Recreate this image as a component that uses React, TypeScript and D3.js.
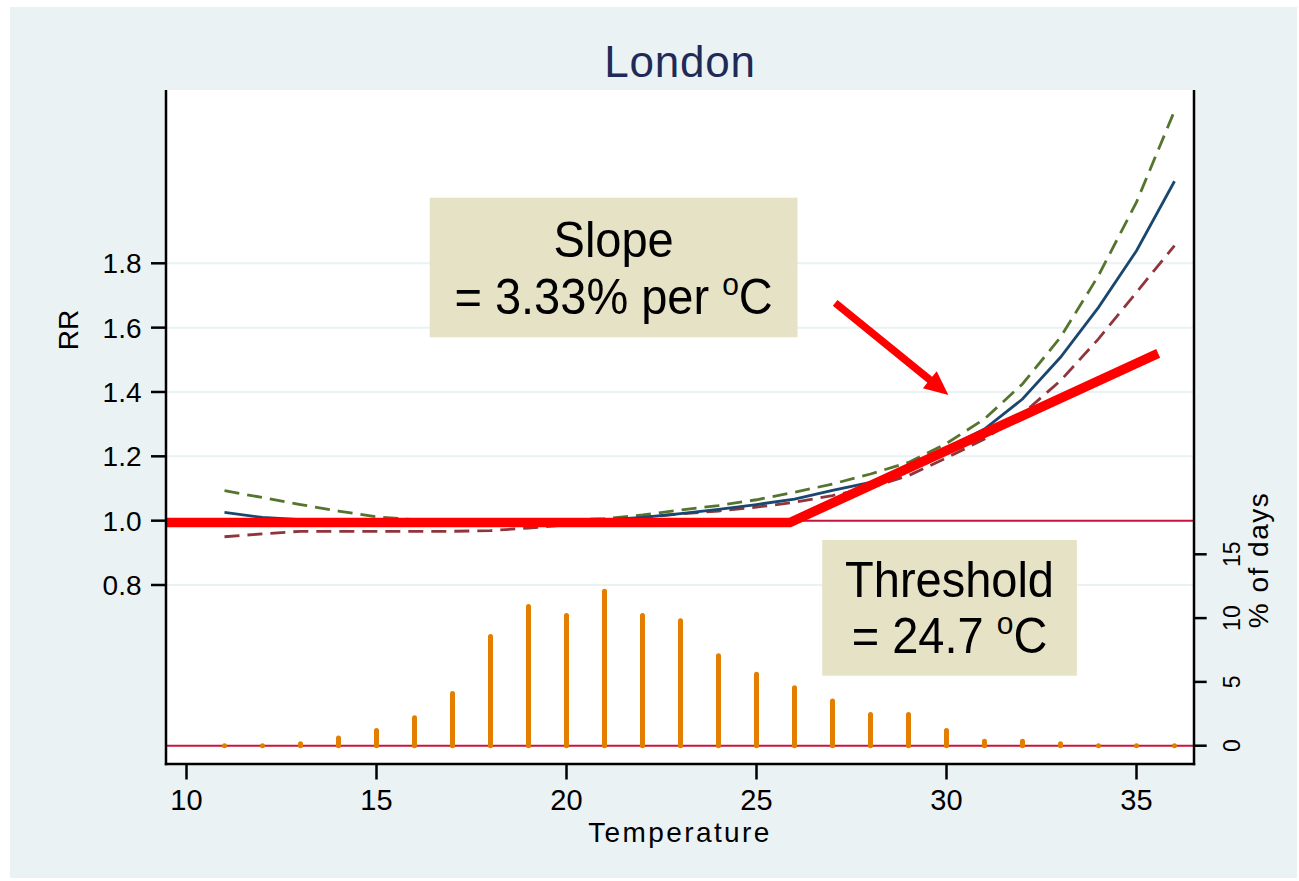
import React from 'react';
import * as d3 from 'd3';

// ---- data ----
const temps = [11, 12, 13, 14, 15, 16, 17, 18, 19, 20, 21, 22, 23, 24, 25, 26, 27, 28, 29, 30, 31, 32, 33, 34, 35, 36];
const rrEstimate = [1.026, 1.01, 1.003, 0.997, 0.993, 0.99, 0.99, 0.99, 0.993, 0.997, 1.002, 1.01, 1.022, 1.035, 1.05, 1.067, 1.094, 1.119, 1.165, 1.225, 1.285, 1.378, 1.508, 1.663, 1.839, 2.055];
const rrUpper = [1.093, 1.072, 1.05, 1.03, 1.012, 1.003, 1.0, 1.0, 1.0, 1.002, 1.006, 1.018, 1.033, 1.047, 1.065, 1.088, 1.114, 1.145, 1.181, 1.24, 1.316, 1.425, 1.57, 1.762, 1.99, 2.274];
const rrLower = [0.95, 0.959, 0.967, 0.967, 0.967, 0.967, 0.967, 0.969, 0.977, 0.987, 0.997, 1.01, 1.021, 1.03, 1.042, 1.057, 1.078, 1.103, 1.14, 1.195, 1.254, 1.332, 1.435, 1.565, 1.71, 1.855];
const pctDays = [0, 0, 0.15, 0.6, 1.2, 2.2, 4.1, 8.55, 10.9, 10.2, 12.1, 10.2, 9.8, 7.05, 5.6, 4.55, 3.5, 2.45, 2.45, 1.2, 0.35, 0.35, 0.15, 0, 0, 0];

const xTicks = [10, 15, 20, 25, 30, 35];
const rrTicks = [0.8, 1.0, 1.2, 1.4, 1.6, 1.8];
const pctTicks = [0, 5, 10, 15];

const thresholdT = [9.45, 25.88, 35.57];
const thresholdRR = [0.9943, 0.9943, 1.52];
const arrowT = [27.07, 30.05];
const arrowRR = [1.677, 1.391];
const slopeBox = { t0: 16.4, t1: 26.08, rrTop: 2.004, rrBottom: 1.57 };
const thresholdBox = { t0: 26.73, t1: 33.43, rrTop: 0.94, rrBottom: 0.518 };

const FONT = 'Liberation Sans, Arial, Helvetica, sans-serif';

export default function App() {
  const W = 1299, H = 881;
  const left = 166, right = 1194, top = 90, bottom = 764;

  const x = d3.scaleLinear().domain([10, 35]).range([186.5, 1136.5]);
  const y = d3.scaleLinear().domain([0.8, 1.8]).range([585, 263.3]);
  const y2 = d3.scaleLinear().domain([0, 15]).range([745.7, 554.3]);

  const line = d3.line<[number, number]>().x(d => x(d[0])).y(d => y(d[1]));
  const mk = (vals: number[]) => line(temps.map((t, i) => [t, vals[i]] as [number, number])) || '';
  const thrPath = line(thresholdT.map((t, i) => [t, thresholdRR[i]] as [number, number])) || '';

  // arrow
  const p0 = [x(arrowT[0]), y(arrowRR[0])];
  const p1 = [x(arrowT[1]), y(arrowRR[1])];
  const dx = p1[0] - p0[0], dy = p1[1] - p0[1];
  const len = Math.hypot(dx, dy);
  const ux = dx / len, uy = dy / len;
  const headL = 24, headW = 11;
  const bx = p1[0] - ux * headL, by = p1[1] - uy * headL;
  const head = `${p1[0]},${p1[1]} ${bx - uy * headW},${by + ux * headW} ${bx + uy * headW},${by - ux * headW}`;

  const sb = { x0: x(slopeBox.t0), x1: x(slopeBox.t1), y0: y(slopeBox.rrTop), y1: y(slopeBox.rrBottom) };
  const tb = { x0: x(thresholdBox.t0), x1: x(thresholdBox.t1), y0: y(thresholdBox.rrTop), y1: y(thresholdBox.rrBottom) };

  const annText = (cx: number, base: number, content: React.ReactNode) => (
    <text transform={`translate(${cx},${base}) scale(1,1.07)`} textAnchor="middle" fontFamily={FONT} fontSize={47} fill="#000">
      {content}
    </text>
  );

  return (
    <svg width={W} height={H} style={{ position: 'fixed', left: 0, top: 0 }}>
      <rect x={0} y={0} width={W} height={H} fill="#ffffff" />
      <rect x={10} y={7} width={1287} height={871} fill="#eaf2f3" />
      <rect x={left} y={top} width={right - left} height={bottom - top} fill="#ffffff" />

      {/* title */}
      <text x={(left + right) / 2} y={77} textAnchor="middle" fontFamily={FONT} fontSize={44} letterSpacing={0.8} fill="#1e2b58">London</text>

      {/* gridlines */}
      {rrTicks.map(v => (
        <line key={'g' + v} x1={left} x2={right} y1={y(v)} y2={y(v)} stroke="#eaf2f3" strokeWidth={2} />
      ))}

      {/* reference lines */}
      <line x1={left} x2={right} y1={y(1.0)} y2={y(1.0)} stroke="#c8143f" strokeWidth={2} />
      <line x1={left} x2={right} y1={y2(0)} y2={y2(0)} stroke="#c8143f" strokeWidth={2} />

      {/* bars */}
      {temps.map((t, i) => (
        <line key={'b' + t} x1={x(t)} x2={x(t)} y1={y2(0)} y2={y2(pctDays[i])} stroke="#e37e00" strokeWidth={5} strokeLinecap="round" />
      ))}

      {/* curves */}
      <path d={mk(rrUpper)} fill="none" stroke="#55752f" strokeWidth={2.8} strokeDasharray="15 8" />
      <path d={mk(rrLower)} fill="none" stroke="#90353b" strokeWidth={2.8} strokeDasharray="15 8" />
      <path d={mk(rrEstimate)} fill="none" stroke="#1a476f" strokeWidth={2.8} />

      {/* threshold annotation line */}
      <path d={thrPath} fill="none" stroke="#ff0000" strokeWidth={9.5} strokeLinejoin="miter" />

      {/* arrow */}
      <line x1={p0[0]} y1={p0[1]} x2={bx + ux * 2} y2={by + uy * 2} stroke="#ff0000" strokeWidth={7.5} />
      <polygon points={head} fill="#ff0000" />

      {/* boxes */}
      <rect x={sb.x0} y={sb.y0} width={sb.x1 - sb.x0} height={sb.y1 - sb.y0} fill="#e6e2c5" />
      {annText((sb.x0 + sb.x1) / 2, sb.y0 + 59.4, 'Slope')}
      {annText((sb.x0 + sb.x1) / 2, sb.y0 + 116.4, (
        <>
          <tspan>= 3.33% per </tspan>
          <tspan fontSize={30} dy={-18}>o</tspan>
          <tspan dy={18}>C</tspan>
        </>
      ))}
      <rect x={tb.x0} y={tb.y0} width={tb.x1 - tb.x0} height={tb.y1 - tb.y0} fill="#e6e2c5" />
      {annText((tb.x0 + tb.x1) / 2, tb.y0 + 56.7, 'Threshold')}
      {annText((tb.x0 + tb.x1) / 2, tb.y0 + 113.3, (
        <>
          <tspan>= 24.7 </tspan>
          <tspan fontSize={30} dy={-18}>o</tspan>
          <tspan dy={18}>C</tspan>
        </>
      ))}

      {/* axes lines */}
      <line x1={left} x2={left} y1={top} y2={bottom + 1.2} stroke="#000" strokeWidth={2.5} />
      <line x1={right} x2={right} y1={top} y2={bottom + 1.2} stroke="#000" strokeWidth={2.5} />
      <line x1={left - 1.2} x2={right + 1.2} y1={bottom} y2={bottom} stroke="#000" strokeWidth={2.5} />

      {/* left axis */}
      {rrTicks.map(v => (
        <g key={'l' + v}>
          <line x1={151} x2={left} y1={y(v)} y2={y(v)} stroke="#000" strokeWidth={2.5} />
          <text x={141.5} y={y(v)} dy="0.36em" textAnchor="end" fontFamily={FONT} fontSize={28} fill="#000">{v.toFixed(1)}</text>
        </g>
      ))}
      <text transform="translate(78,330) rotate(-90)" textAnchor="middle" fontFamily={FONT} fontSize={28} fill="#000">RR</text>

      {/* right axis */}
      {pctTicks.map(v => (
        <g key={'r' + v}>
          <line x1={right} x2={1206.7} y1={y2(v)} y2={y2(v)} stroke="#000" strokeWidth={2.5} />
          <text transform={`translate(1240,${y2(v)}) rotate(-90)`} textAnchor="middle" fontFamily={FONT} fontSize={23} fill="#000">{v}</text>
        </g>
      ))}
      <text transform="translate(1268,560) rotate(-90)" textAnchor="middle" fontFamily={FONT} fontSize={28} letterSpacing={1.5} fill="#000">% of days</text>

      {/* bottom axis */}
      {xTicks.map(v => (
        <g key={'x' + v}>
          <line x1={x(v)} x2={x(v)} y1={bottom} y2={779.5} stroke="#000" strokeWidth={2.5} />
          <text x={x(v)} y={810} textAnchor="middle" fontFamily={FONT} fontSize={29} fill="#000">{v}</text>
        </g>
      ))}
      <text x={(left + right) / 2} y={841.5} textAnchor="middle" fontFamily={FONT} fontSize={28} letterSpacing={2.4} fill="#000">Temperature</text>
    </svg>
  );
}
